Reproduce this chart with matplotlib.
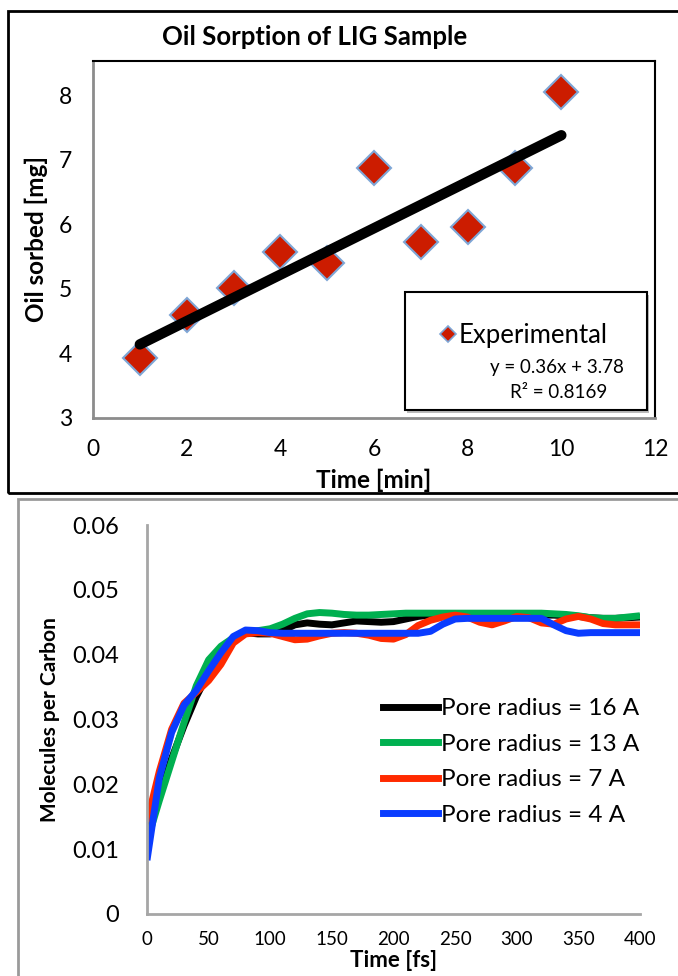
import matplotlib.pyplot as plt
from matplotlib.patches import Rectangle
from matplotlib.lines import Line2D

plt.rcParams['font.family'] = ['Lato', 'DejaVu Sans']

# ---- top chart: oil sorption ----
sorp_time = [1, 2, 3, 4, 5, 6, 7, 8, 9, 10]
sorp_oil = [3.93, 4.60, 5.02, 5.57, 5.40, 6.88, 5.72, 5.96, 6.87, 8.05]
fit_slope = 0.36
fit_icept = 3.78
top_xticks = [0, 2, 4, 6, 8, 10, 12]
top_yticks = [3, 4, 5, 6, 7, 8]

# ---- bottom chart: molecules per carbon ----
md_time = [0, 10, 20, 30, 40, 50, 60, 70, 80, 90, 100, 110, 120, 130, 140, 150,
           160, 170, 180, 190, 200, 210, 220, 230, 240, 250, 260, 270, 280, 290,
           300, 310, 320, 330, 340, 350, 360, 370, 380, 390, 400]
pore16 = [0.0125, 0.0180, 0.0240, 0.0290, 0.0335, 0.0372, 0.0405, 0.0425, 0.0434, 0.0432,
          0.0432, 0.0437, 0.0446, 0.0449, 0.0447, 0.0446, 0.0449, 0.0452, 0.0451, 0.0450,
          0.0451, 0.0455, 0.0459, 0.0461, 0.0461, 0.0461, 0.0461, 0.0461, 0.0461, 0.0461,
          0.0461, 0.0461, 0.0461, 0.0461, 0.0460, 0.0459, 0.0457, 0.0456, 0.0456, 0.0457, 0.0458]
pore13 = [0.0112, 0.0175, 0.0235, 0.0295, 0.0352, 0.0392, 0.0413, 0.0426, 0.0434, 0.0437,
          0.0440, 0.0447, 0.0456, 0.0463, 0.0465, 0.0464, 0.0462, 0.0461, 0.0461, 0.0462,
          0.0463, 0.0464, 0.0464, 0.0464, 0.0464, 0.0464, 0.0464, 0.0464, 0.0464, 0.0464,
          0.0464, 0.0464, 0.0464, 0.0463, 0.0462, 0.0460, 0.0457, 0.0456, 0.0456, 0.0458, 0.0460]
pore7 = [0.0142, 0.0220, 0.0285, 0.0325, 0.0342, 0.0360, 0.0385, 0.0418, 0.0432, 0.0434,
         0.0433, 0.0428, 0.0423, 0.0424, 0.0429, 0.0433, 0.0434, 0.0433, 0.0430, 0.0425,
         0.0424, 0.0431, 0.0445, 0.0453, 0.0458, 0.0461, 0.0458, 0.0450, 0.0446, 0.0452,
         0.0459, 0.0457, 0.0449, 0.0447, 0.0455, 0.0459, 0.0455, 0.0448, 0.0446, 0.0446, 0.0446]
pore4 = [0.0083, 0.0210, 0.0280, 0.0322, 0.0345, 0.0375, 0.0403, 0.0428, 0.0438, 0.0437,
         0.0434, 0.0433, 0.0433, 0.0433, 0.0433, 0.0433, 0.0433, 0.0433, 0.0433, 0.0433,
         0.0433, 0.0433, 0.0433, 0.0436, 0.0447, 0.0455, 0.0456, 0.0456, 0.0456, 0.0456,
         0.0456, 0.0456, 0.0456, 0.0446, 0.0437, 0.0433, 0.0434, 0.0434, 0.0434, 0.0434, 0.0434]
md_series = [pore16, pore13, pore7, pore4]
md_labels = ['Pore radius = 16 A', 'Pore radius = 13 A', 'Pore radius = 7 A', 'Pore radius = 4 A']
md_colors = ['#000000', '#00B050', '#FF2A00', '#0A3CFF']
bot_xticks = [0, 50, 100, 150, 200, 250, 300, 350, 400]
bot_yticks = [0, 0.01, 0.02, 0.03, 0.04, 0.05, 0.06]

W, H = 678, 976
fig = plt.figure(figsize=(W / 100, H / 100), dpi=100)


def box(x0, y0, x1, y1):
    # pixel box (top-left origin) -> figure fraction rect
    return [x0 / W, 1 - y1 / H, (x1 - x0) / W, (y1 - y0) / H]


# outer frames of the two panels
fig.patches.append(Rectangle((8 / W, 1 - 493 / H), 700 / W, 482 / H, transform=fig.transFigure,
                             fill=False, edgecolor='black', lw=2))
fig.patches.append(Rectangle((18 / W, -0.1), 700 / W, 1 - 499 / H + 0.1, transform=fig.transFigure,
                             fill=False, edgecolor='#9A9A9A', lw=2))

# ---------------- top chart ----------------
ax1 = fig.add_axes(box(93, 61, 655, 418))
ax1.plot(sorp_time, sorp_oil, linestyle='none', marker='D', markersize=17,
         markerfacecolor='#CC1C00', markeredgecolor='#7EA6D6', markeredgewidth=1.5, zorder=2)
fx = [sorp_time[0], sorp_time[-1]]
ax1.plot(fx, [fit_slope * v + fit_icept for v in fx], color='black', lw=7.5,
         solid_capstyle='round', zorder=3)
ax1.set_xlim(0, 12)
ax1.set_ylim(3, 8.53)
ax1.set_xticks(top_xticks)
ax1.set_yticks(top_yticks)
ax1.tick_params(length=0, labelsize=16.5, pad=15)
for s in ['top', 'right']:
    ax1.spines[s].set_color('black')
    ax1.spines[s].set_linewidth(1.5)
for s in ['left', 'bottom']:
    ax1.spines[s].set_color('#8C8C8C')
    ax1.spines[s].set_linewidth(2)
ax1.set_xlabel('Time [min]', fontsize=17.5, fontweight='bold', labelpad=6)
ax1.set_ylabel('Oil sorbed [mg]', fontsize=17.5, fontweight='bold', labelpad=8)
fig.text(315 / W, 1 - 37 / H, 'Oil Sorption of LIG Sample', ha='center', va='center',
         fontsize=18.5, fontweight='bold')

# legend box with equation
lx0, lx1 = (405 - 93) / 562, (647 - 93) / 562
ly0, ly1 = (418 - 410) / 357, (418 - 292) / 357
ax1.add_patch(Rectangle((lx0 + 0.004, ly0 - 0.008), lx1 - lx0, ly1 - ly0, transform=ax1.transAxes,
                        facecolor='#BBBBBB', edgecolor='none', zorder=4, clip_on=False))
ax1.add_patch(Rectangle((lx0, ly0), lx1 - lx0, ly1 - ly0, transform=ax1.transAxes,
                        facecolor='white', edgecolor='black', lw=1.5, zorder=5, clip_on=False))
ax1.plot([(448 - 93) / 562], [(418 - 334) / 357], transform=ax1.transAxes, marker='D',
         markersize=8, markerfacecolor='#CC1C00', markeredgecolor='#7EA6D6',
         markeredgewidth=1.2, zorder=6, clip_on=False)
ax1.text((459 - 93) / 562, (418 - 335) / 357, 'Experimental', transform=ax1.transAxes,
         fontsize=18.5, va='center', ha='left', zorder=6)
ax1.text((557 - 93) / 562, (418 - 368) / 357, 'y = 0.36x + 3.78', transform=ax1.transAxes,
         fontsize=13.5, va='center', ha='center', zorder=6)
ax1.text((559 - 93) / 562, (418 - 392) / 357, 'R² = 0.8169', transform=ax1.transAxes,
         fontsize=13.5, va='center', ha='center', zorder=6)

# ---------------- bottom chart ----------------
ax2 = fig.add_axes(box(147, 525, 640, 914))
for ys, lab, col in zip(md_series, md_labels, md_colors):
    ax2.plot(md_time, ys, color=col, lw=5, label=lab, solid_capstyle='butt')
ax2.set_xlim(0, 400)
ax2.set_ylim(0, 0.06)
ax2.set_xticks(bot_xticks)
ax2.set_yticks(bot_yticks)
ax2.set_yticklabels(['0', '0.01', '0.02', '0.03', '0.04', '0.05', '0.06'])
ax2.tick_params(axis='y', length=0, labelsize=17, pad=20)
ax2.tick_params(axis='x', length=0, labelsize=13.5, pad=12)
for s in ['top', 'right']:
    ax2.spines[s].set_visible(False)
for s in ['left', 'bottom']:
    ax2.spines[s].set_color('#A6A6A6')
    ax2.spines[s].set_linewidth(2)
ax2.set_xlabel('Time [fs]', fontsize=16, fontweight='bold', labelpad=2)
ax2.set_ylabel('Molecules per Carbon', fontsize=15, fontweight='bold', labelpad=9)

handles = [Line2D([0], [0], color=c, lw=5) for c in md_colors]
ax2.legend(handles, md_labels, loc='upper left', bbox_to_anchor=((383 - 147) / 493, (914 - 698) / 389),
           frameon=False, fontsize=17.5, handlelength=2.25, handletextpad=0.12, labelspacing=0.6,
           borderaxespad=0, borderpad=0)

fig.savefig('out.png', dpi=100)
